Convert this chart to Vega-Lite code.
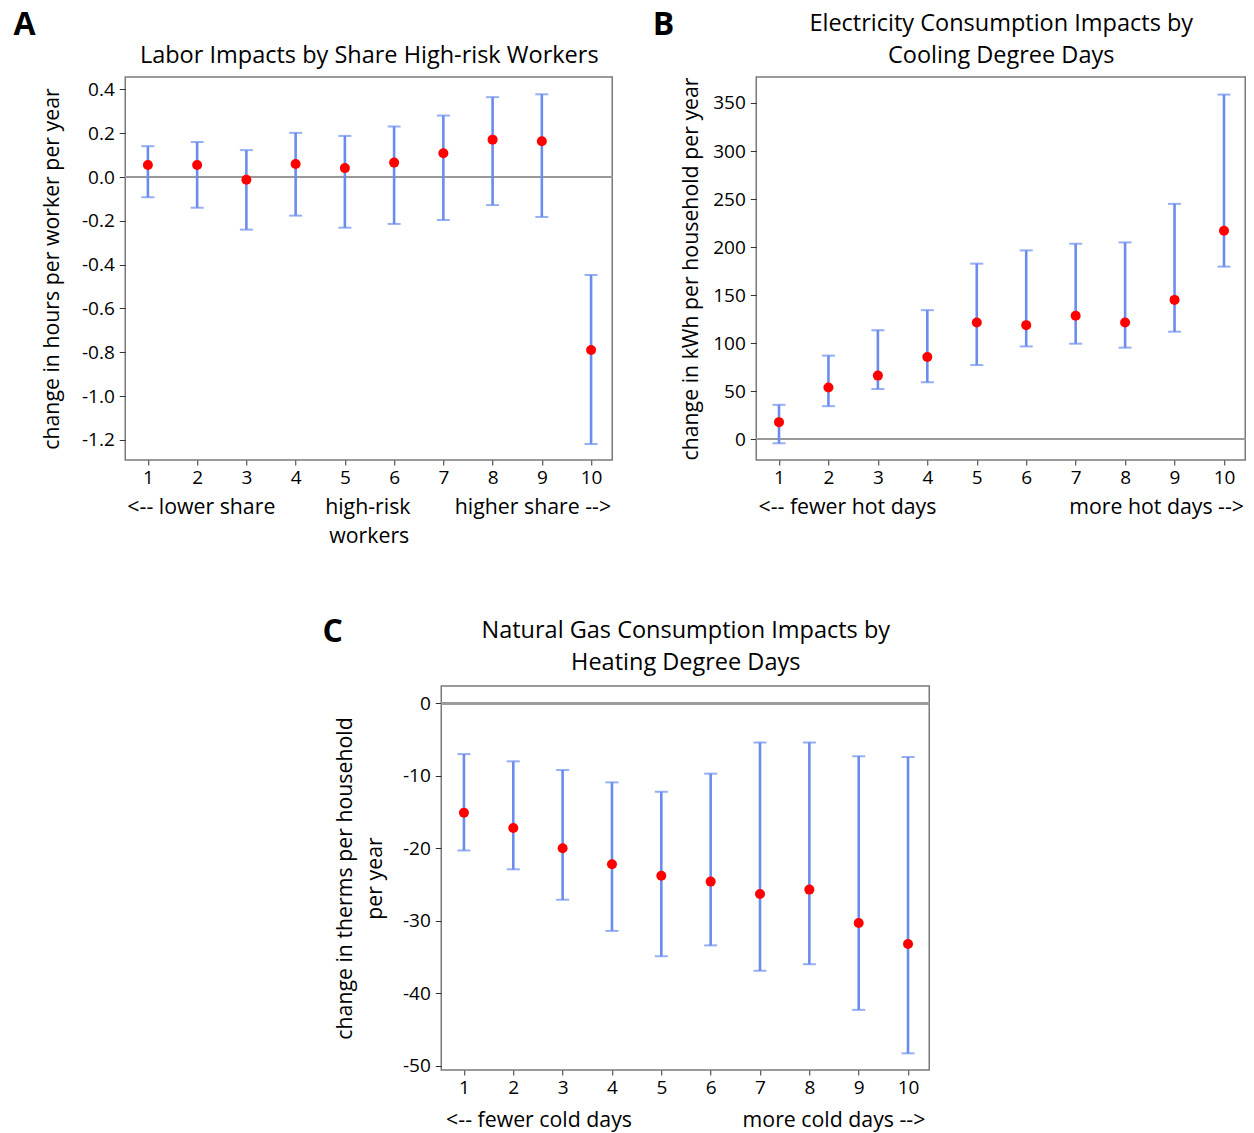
{
  "$schema": "https://vega.github.io/schema/vega-lite/v6.json",
  "padding": {"left": 12, "top": 8, "right": 5, "bottom": 5},
  "background": "white",
  "config": {
    "font": "Open Sans",
    "view": {"stroke": "#7a7a7a", "strokeWidth": 1.5},
    "axis": {"grid": false, "domain": false, "tickColor": "#333333", "tickSize": 5, "labelColor": "black", "titleColor": "black", "labelFont": "Open Sans", "titleFont": "Open Sans", "labelFontSize": 19, "titleFontSize": 21.3, "titleFontWeight": "normal", "labelPadding": 3},
    "axisY": {"tickSize": 6, "labelPadding": 5},
    "title": {"font": "Open Sans", "color": "black"},
    "locale": {"number": {"decimal": ".", "thousands": ",", "grouping": [3], "currency": ["$", ""], "minus": "-"}}
  },
  "datasets": {
    "labor": [
      {"group": 1, "est": 0.055, "lo": -0.092, "hi": 0.141},
      {"group": 2, "est": 0.055, "lo": -0.140, "hi": 0.160},
      {"group": 3, "est": -0.012, "lo": -0.240, "hi": 0.123},
      {"group": 4, "est": 0.060, "lo": -0.176, "hi": 0.202},
      {"group": 5, "est": 0.041, "lo": -0.231, "hi": 0.188},
      {"group": 6, "est": 0.066, "lo": -0.214, "hi": 0.231},
      {"group": 7, "est": 0.109, "lo": -0.196, "hi": 0.281},
      {"group": 8, "est": 0.171, "lo": -0.128, "hi": 0.365},
      {"group": 9, "est": 0.164, "lo": -0.182, "hi": 0.378},
      {"group": 10, "est": -0.790, "lo": -1.219, "hi": -0.447}
    ],
    "elec": [
      {"group": 1, "est": 17.9, "lo": -4.1, "hi": 35.9},
      {"group": 2, "est": 53.9, "lo": 34.5, "hi": 87.1},
      {"group": 3, "est": 66.3, "lo": 52.5, "hi": 113.6},
      {"group": 4, "est": 85.6, "lo": 59.4, "hi": 134.4},
      {"group": 5, "est": 121.6, "lo": 77.3, "hi": 182.8},
      {"group": 6, "est": 118.8, "lo": 96.7, "hi": 196.6},
      {"group": 7, "est": 128.5, "lo": 99.5, "hi": 203.5},
      {"group": 8, "est": 121.6, "lo": 95.4, "hi": 204.9},
      {"group": 9, "est": 145.1, "lo": 112.0, "hi": 245.0},
      {"group": 10, "est": 217.0, "lo": 179.7, "hi": 358.7}
    ],
    "gas": [
      {"group": 1, "est": -15.1, "lo": -20.3, "hi": -7.0},
      {"group": 2, "est": -17.2, "lo": -22.9, "hi": -8.0},
      {"group": 3, "est": -20.0, "lo": -27.1, "hi": -9.2},
      {"group": 4, "est": -22.2, "lo": -31.4, "hi": -10.9},
      {"group": 5, "est": -23.8, "lo": -34.9, "hi": -12.2},
      {"group": 6, "est": -24.6, "lo": -33.4, "hi": -9.7},
      {"group": 7, "est": -26.3, "lo": -36.9, "hi": -5.4},
      {"group": 8, "est": -25.7, "lo": -36.0, "hi": -5.4},
      {"group": 9, "est": -30.3, "lo": -42.3, "hi": -7.3},
      {"group": 10, "est": -33.2, "lo": -48.3, "hi": -7.4}
    ]
  },
  "center": true,
  "spacing": 67,
  "vconcat": [
    {
      "spacing": 37,
      "hconcat": [
        {
          "width": 487,
          "height": 383,
          "data": {"name": "labor"},
          "title": {"text": "A", "anchor": "start", "fontSize": 32, "fontWeight": "bold", "offset": 1, "dx": -28},
          "resolve": {"axis": {"x": "independent"}},
          "layer": [
            {"mark": {"type": "rule", "color": "#999999", "strokeWidth": 1.5}, "encoding": {"y": {"datum": 0, "type": "quantitative"}}},
            {
              "mark": {"type": "errorbar", "ticks": {"size": 13, "thickness": 2, "color": "#6A8CEE"}, "rule": {"strokeWidth": 2.6, "color": "#6A8CEE"}},
              "encoding": {
                "x": {"field": "group", "type": "quantitative", "scale": {"domain": [0.54, 10.43], "nice": false, "zero": false},
                      "axis": {"orient": "bottom", "values": [1,2,3,4,5,6,7,8,9,10], "format": "d", "titlePadding": 9, "titleLineHeight": 29,
                               "title": ["<-- lower share\u00a0\u00a0\u00a0\u00a0\u00a0\u00a0\u00a0\u00a0\u00a0high-risk\u00a0\u00a0\u00a0\u00a0\u00a0\u00a0\u00a0\u00a0higher share -->", "workers"]}},
                "y": {"field": "lo", "type": "quantitative", "scale": {"domain": [-1.292, 0.457], "nice": false, "zero": false},
                      "axis": {"values": [-1.2, -1.0, -0.8, -0.6, -0.4, -0.2, 0, 0.2, 0.4], "format": ".1f", "titlePadding": 19, "title": "change in hours per worker per year"}},
                "y2": {"field": "hi"}
              }
            },
            {
              "mark": {"type": "circle", "color": "#ff0000", "size": 100, "opacity": 1},
              "encoding": {
                "x": {"field": "group", "type": "quantitative", "scale": {"domain": [0.54, 10.43], "nice": false, "zero": false},
                      "axis": {"orient": "top", "labels": false, "ticks": false, "domain": false, "titleFontSize": 23.5, "titlePadding": 10, "title": "Labor Impacts by Share High-risk Workers"}},
                "y": {"field": "est", "type": "quantitative", "scale": {"domain": [-1.292, 0.457], "nice": false, "zero": false},
                      "axis": {"values": [-1.2, -1.0, -0.8, -0.6, -0.4, -0.2, 0, 0.2, 0.4], "format": ".1f", "titlePadding": 19, "title": "change in hours per worker per year"}}
              }
            }
          ]
        },
        {
          "width": 489,
          "height": 383,
          "data": {"name": "elec"},
          "title": {"text": "B", "anchor": "start", "fontSize": 32, "fontWeight": "bold", "offset": -31, "dx": -28},
          "resolve": {"axis": {"x": "independent"}},
          "layer": [
            {"mark": {"type": "rule", "color": "#999999", "strokeWidth": 1.5}, "encoding": {"y": {"datum": 0, "type": "quantitative"}}},
            {
              "mark": {"type": "errorbar", "ticks": {"size": 13, "thickness": 2, "color": "#6A8CEE"}, "rule": {"strokeWidth": 2.6, "color": "#6A8CEE"}},
              "encoding": {
                "x": {"field": "group", "type": "quantitative", "scale": {"domain": [0.54, 10.43], "nice": false, "zero": false},
                      "axis": {"orient": "bottom", "values": [1,2,3,4,5,6,7,8,9,10], "format": "d", "titlePadding": 9,
                               "title": "<-- fewer hot days\u00a0\u00a0\u00a0\u00a0\u00a0\u00a0\u00a0\u00a0\u00a0\u00a0\u00a0\u00a0\u00a0\u00a0\u00a0\u00a0\u00a0\u00a0\u00a0\u00a0\u00a0\u00a0\u00a0\u00a0more hot days -->"}},
                "y": {"field": "lo", "type": "quantitative", "scale": {"domain": [-21.5, 377], "nice": false, "zero": false},
                      "axis": {"values": [0, 50, 100, 150, 200, 250, 300, 350], "titlePadding": 11, "title": "change in kWh per household per year"}},
                "y2": {"field": "hi"}
              }
            },
            {
              "mark": {"type": "circle", "color": "#ff0000", "size": 100, "opacity": 1},
              "encoding": {
                "x": {"field": "group", "type": "quantitative", "scale": {"domain": [0.54, 10.43], "nice": false, "zero": false},
                      "axis": {"orient": "top", "labels": false, "ticks": false, "domain": false, "titleFontSize": 23.5, "titlePadding": 10, "titleLineHeight": 32, "title": ["Electricity Consumption Impacts by", "Cooling Degree Days"]}},
                "y": {"field": "est", "type": "quantitative", "scale": {"domain": [-21.5, 377], "nice": false, "zero": false},
                      "axis": {"values": [0, 50, 100, 150, 200, 250, 300, 350], "titlePadding": 11, "title": "change in kWh per household per year"}}
              }
            }
          ]
        }
      ]
    },
    {
      "width": 488,
      "height": 384,
      "data": {"name": "gas"},
      "title": {"text": "C", "anchor": "start", "fontSize": 32, "fontWeight": "bold", "offset": -31, "dx": -12},
      "resolve": {"axis": {"x": "independent"}},
      "layer": [
        {"mark": {"type": "rule", "color": "#999999", "strokeWidth": 1.5}, "encoding": {"y": {"datum": 0, "type": "quantitative"}}},
        {
          "mark": {"type": "errorbar", "ticks": {"size": 13, "thickness": 2, "color": "#6A8CEE"}, "rule": {"strokeWidth": 2.6, "color": "#6A8CEE"}},
          "encoding": {
            "x": {"field": "group", "type": "quantitative", "scale": {"domain": [0.54, 10.43], "nice": false, "zero": false},
                  "axis": {"orient": "bottom", "values": [1,2,3,4,5,6,7,8,9,10], "format": "d", "titlePadding": 12,
                           "title": "<-- fewer cold days\u00a0\u00a0\u00a0\u00a0\u00a0\u00a0\u00a0\u00a0\u00a0\u00a0\u00a0\u00a0\u00a0\u00a0\u00a0\u00a0\u00a0\u00a0\u00a0\u00a0more cold days -->"}},
            "y": {"field": "lo", "type": "quantitative", "scale": {"domain": [-50.6, 2.4], "nice": false, "zero": false},
                  "axis": {"values": [-50, -40, -30, -20, -10, 0], "titlePadding": 17, "titleLineHeight": 30, "title": ["change in therms per household", "per year"]}},
            "y2": {"field": "hi"}
          }
        },
        {
          "mark": {"type": "circle", "color": "#ff0000", "size": 100, "opacity": 1},
          "encoding": {
            "x": {"field": "group", "type": "quantitative", "scale": {"domain": [0.54, 10.43], "nice": false, "zero": false},
                  "axis": {"orient": "top", "labels": false, "ticks": false, "domain": false, "titleFontSize": 23.5, "titlePadding": 12, "titleLineHeight": 32, "title": ["Natural Gas Consumption Impacts by", "Heating Degree Days"]}},
            "y": {"field": "est", "type": "quantitative", "scale": {"domain": [-50.6, 2.4], "nice": false, "zero": false},
                  "axis": {"values": [-50, -40, -30, -20, -10, 0], "titlePadding": 17, "titleLineHeight": 30, "title": ["change in therms per household", "per year"]}}
          }
        }
      ]
    }
  ]
}
